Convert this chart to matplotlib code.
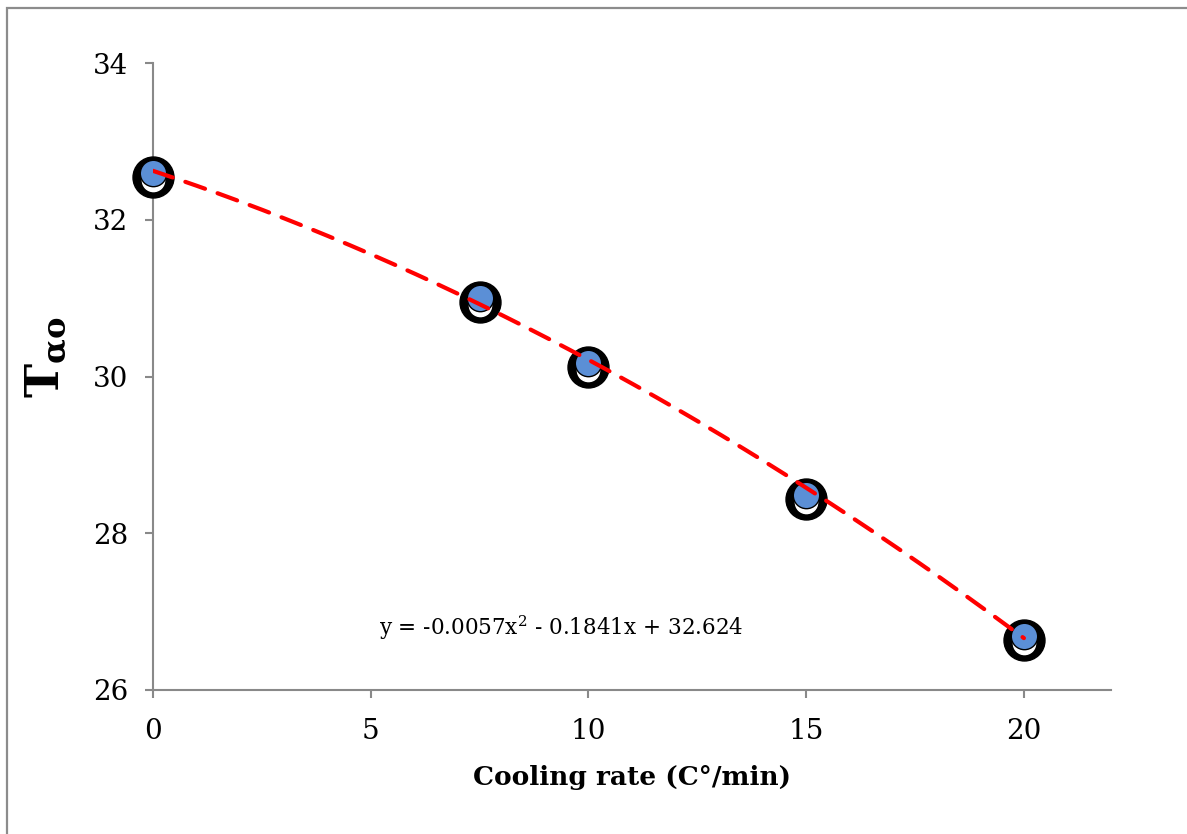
import numpy as np
import matplotlib
matplotlib.use("Agg")
import matplotlib.pyplot as plt
import matplotlib.transforms as mtransforms
from matplotlib.patches import Rectangle

# measured points
cooling_rate = [0, 7.5, 10, 15, 20]
t_alpha_o = [32.6, 31.0, 30.17, 28.49, 26.69]

# quadratic trendline coefficients (x^2, x, 1)
trend_coef = [-0.0057, -0.1841, 32.624]
trend_label = r"y = -0.0057x$^2$ - 0.1841x + 32.624"

x_ticks = [0, 5, 10, 15, 20]
y_ticks = [26, 28, 30, 32, 34]

plt.rcParams["mathtext.fontset"] = "dejavuserif"

W, H = 1187, 834
fig = plt.figure(figsize=(W / 100, H / 100), dpi=100)
ax = fig.add_axes([153 / W, 1 - 690 / H, (1111 - 153) / W, (690 - 63) / H])

spine_col = "#898989"
serif = "DejaVu Serif"

# outer frame
fig.patches.append(Rectangle((7 / W, -0.05), 1.2, 1 - 8 / H + 0.05,
                             transform=fig.transFigure, fill=False,
                             edgecolor="#8c8c8c", linewidth=1.6))

xs = np.linspace(min(cooling_rate), max(cooling_rate), 200)

# markers: dark shadow shape behind a blue dot
def px_shift(dy):
    return mtransforms.ScaledTranslation(0, -dy / 100, fig.dpi_scale_trans)

ax.plot(cooling_rate, t_alpha_o, "o", markersize=29.5, color="black",
        transform=ax.transData + px_shift(4), zorder=3, clip_on=False)
ax.plot(cooling_rate, t_alpha_o, "o", markersize=16, color="white",
        transform=ax.transData + px_shift(7), zorder=3, clip_on=False)
ax.plot(cooling_rate, t_alpha_o, "o", markersize=19, markerfacecolor="#5b8fd6",
        markeredgecolor="black", markeredgewidth=1.0, zorder=4, clip_on=False)

# trendline
ax.plot(xs, np.polyval(trend_coef, xs), color="#ff0000", linewidth=3.0,
        linestyle=(0, (5, 3.2)), dash_capstyle="round", zorder=5)

ax.text(9.37, 26.8, trend_label, ha="center", va="center",
        fontsize=15.5, family=serif, color="black")

ax.set_xlim(0, 22)
ax.set_ylim(26, 34)
ax.set_xticks(x_ticks)
ax.set_yticks(y_ticks)
for s in ["top", "right"]:
    ax.spines[s].set_visible(False)
for s in ["left", "bottom"]:
    ax.spines[s].set_color(spine_col)
    ax.spines[s].set_linewidth(1.5)
ax.tick_params(axis="both", direction="out", length=6, width=1.5,
               color=spine_col, labelsize=20, pad=12)
ax.tick_params(axis="x", pad=14)
for lab in ax.get_xticklabels() + ax.get_yticklabels():
    lab.set_family(serif)

fig.text(632 / W, 1 - 777 / H, "Cooling rate (C\u00b0/min)", ha="center",
         va="center", fontsize=19, fontweight="bold", family=serif)
fig.text(46 / W, 1 - 357 / H, "$\\mathbf{T}_{\\mathbf{\u03b1o}}$", rotation=90,
         ha="center", va="center", fontsize=33, family=serif)

fig.savefig("out.png", dpi=100)
